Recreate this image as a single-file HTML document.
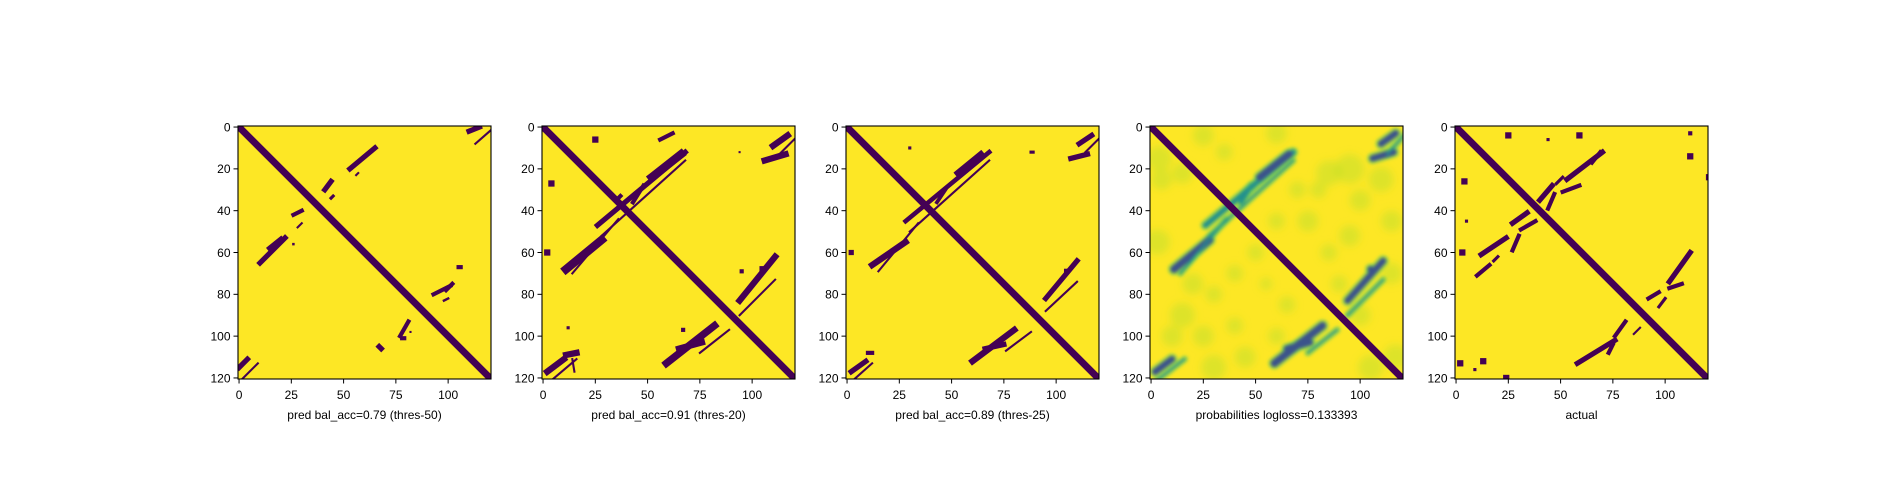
<!DOCTYPE html>
<html><head><meta charset="utf-8">
<style>
html,body{margin:0;padding:0;background:#fff;}
svg{display:block;font-family:"Liberation Sans","DejaVu Sans",sans-serif;}
</style></head>
<body>
<svg id="fig" width="1900" height="500" viewBox="0 0 1900 500" xmlns="http://www.w3.org/2000/svg">
<defs>
<filter id="blur1" x="-20%" y="-20%" width="140%" height="140%"><feGaussianBlur stdDeviation="1.6"/></filter>
<filter id="blur2" x="-50%" y="-50%" width="200%" height="200%"><feGaussianBlur stdDeviation="4"/></filter>
</defs>
</svg>
<script>
const N = 121;
const panelLefts = [238, 542, 846, 1150, 1455];
const panelTop = 126;
const panelSize = 253;
const yTicks = [0, 20, 40, 60, 80, 100, 120];
const xTicks = [0, 25, 50, 75, 100];
const titles = ["pred bal_acc=0.79 (thres-50)", "pred bal_acc=0.91 (thres-20)", "pred bal_acc=0.89 (thres-25)", "probabilities logloss=0.133393", "actual"];
const diagWidth = [3, 3, 3, 3, 3];

const panel1Segments = [
 [53,20,65,10,2.5],[56,23,57,22,1],[10,65,22,53,2.5],[15,58,20,54,3],[26,42,30,40,2],[26,56,26,56,1.2],[41,30,44,26,2.5],[44,34,45,33,1.5],[28,48,30,46,1],
 [110,2,115,0,2.5],[113,8,121,1,1],[0,115,4,111,2.5],[1,121,9,113,1],[93,80,101,76,2],[99,78,102,75,2],[98,83,100,82,1.2],
 [105,67,106,67,2],[77,100,81,93,2],[78,101,79,101,2],[67,105,68,106,2.5],[82,98,82,98,1]
];
const panel2Segments = [
 [68,12,26,47,2.5],[68,16,28,52,1],[52,24,66,13,4],[11,68,28,54,4],[14,70,36,44,1],[43,36,48,28,2],
 [110,9,117,4,3],[106,16,116,13,3],[113,13,122,4,1],[56,6,62,3,2],[25,6,25,6,3],[4,27,4,27,3],[2,60,2,60,3],
 [2,117,10,111,3],[11,109,16,108,3],[3,122,16,111,1],[14,111,15,117,1],
 [94,83,111,62,3],[105,68,105,68,3],[95,69,95,69,2],[94,90,111,73,1],
 [59,113,82,95,3.5],[65,106,76,103,3],[75,108,89,97,1],[67,97,67,97,2],[12,96,12,96,1.5],[35,35,37,33,2],[94,12,94,12,1]
];
const panel3Segments = [
 [68,12,28,45,2.2],[68,16,30,50,1],[53,22,64,13,3],[12,66,28,55,3],[15,69,34,46,1],[43,36,47,30,1.8],
 [111,8,117,4,2.5],[107,15,115,13,2.5],[114,12,121,5,1],[2,117,9,112,2.5],[3,121,12,113,1],[10,108,12,108,2],
 [95,82,110,64,2.5],[105,69,105,69,2.5],[95,88,110,74,1],[60,112,80,97,3],[66,106,75,104,2.5],[76,107,88,98,1],[2,60,2,60,2.5],[30,10,30,10,1.5],[88,12,89,12,1.5]
];
const panel4Segments = [
 [68,12,26,47,2.5],[68,16,28,52,1],[52,24,66,13,3.5],[11,68,28,54,3.5],[14,70,36,44,1],[43,36,48,28,2],
 [110,8,117,3,3],[106,15,116,12,3],[113,13,121,4,1],[2,117,10,111,3],[3,121,16,111,1],
 [94,83,111,64,3],[105,68,105,68,3],[94,90,111,73,1],[59,113,82,95,3.5],[65,106,76,103,3],[75,108,89,97,1]
];
const probNoise = [
 [25,4,5],[60,3,5],[4,15,6],[5,25,5],[15,22,5],[35,12,4],[85,22,6],[95,20,7],[110,25,6],[80,30,4],[100,35,5],[75,45,5],[60,45,4],
 [3,55,6],[20,75,5],[30,80,4],[15,90,6],[25,100,5],[10,100,5],[40,95,4],[50,60,4],[45,110,5],[30,115,6],[85,60,4],[95,52,5],
 [115,70,5],[117,110,6],[105,115,6],[100,90,5],[90,75,4],[65,85,4],[55,75,3],[70,30,4],[40,70,4],[115,45,5],[60,100,4]
];
const panel5Segments = [
 [70,12,53,25,2.5],[69,12,65,17,2],[59,28,51,31,2],[51,24,48,27,1.5],[46,28,40,35,2.5],[47,32,44,39,2],
 [34,41,27,46,2.5],[38,45,31,49,2],[24,53,12,61,2.5],[30,52,27,59,2],[20,62,18,64,1.5],[16,66,10,71,2],
 [112,60,102,74,2.5],[108,75,102,77,2],[97,79,92,82,2],[100,82,97,86,1.5],[81,93,76,100,2],[88,96,85,99,1],
 [76,102,58,113,2.5],[75,104,73,108,2],[112,14,112,14,3],[112,3,112,3,2],[59,4,59,4,3],[25,4,25,4,3],[44,6,44,6,1.5],
 [4,26,4,26,3],[3,60,3,60,3],[5,45,5,45,1.5],[2,113,2,113,3],[13,112,13,112,3],[24,120,24,120,3],[9,116,9,116,1.5],[121,24,121,24,3]
];
const allSegments = [panel1Segments, panel2Segments, panel3Segments, panel4Segments, panel5Segments];

const svg = document.getElementById('fig');
const NS = 'http://www.w3.org/2000/svg';
function mk(tag, attrs, parent){ const e=document.createElementNS(NS,tag); for(const k in attrs) e.setAttribute(k,attrs[k]); parent.appendChild(e); return e; }
const unit = panelSize / N;
function sx(p, v){ return panelLefts[p] + (v + 0.5) * unit; }
function sy(v){ return panelTop + (v + 0.5) * unit; }

for (let p = 0; p < 5; p++) {
  const L = panelLefts[p];
  const g = mk('g', {}, svg);
  
  
  const cp = mk('clipPath', {id: 'clip' + p}, svg);
  mk('rect', {x: L, y: panelTop, width: panelSize, height: panelSize}, cp);
  const bg = mk('rect', {x: L, y: panelTop, width: panelSize, height: panelSize, fill: '#fde725'}, g);
  
  
  const marks = mk('g', {'clip-path': 'url(#clip' + p + ')'}, g);
  
  
  const isProb = p === 3;
  if (isProb) {
    const ng = mk('g', {filter: 'url(#blur2)'}, marks);
    probNoise.forEach(n => {
      const c = mk('circle', {cx: sx(p, n[0]), cy: sy(n[1]), r: n[2] * unit, fill: '#b5de2b', opacity: 0.45}, ng);
      
      
    });
    const halo = mk('g', {filter: 'url(#blur1)'}, marks);
    allSegments[p].forEach(s => {
      const l = mk('line', {x1: sx(p, s[0]), y1: sy(s[1]), x2: sx(p, s[2]), y2: sy(s[3]), stroke: '#5ec962', 'stroke-width': (s[4] + 2.5) * unit, 'stroke-linecap': 'round', opacity: 0.55}, halo);
      
      
    });
    const core = mk('g', {filter: 'url(#blur1)'}, marks);
    allSegments[p].forEach(s => {
      const l = mk('line', {x1: sx(p, s[0]), y1: sy(s[1]), x2: sx(p, s[2]), y2: sy(s[3]), stroke: s[4] >= 3 ? '#3b528b' : '#21918c', 'stroke-width': s[4] * unit, 'stroke-linecap': 'round'}, core);
      
      
    });
  } else {
    allSegments[p].forEach(s => {
      const l = mk('line', {x1: sx(p, s[0]), y1: sy(s[1]), x2: sx(p, s[2]), y2: sy(s[3]), stroke: '#440154', 'stroke-width': s[4] * unit, 'stroke-linecap': 'square'}, marks);
      
      
    });
  }
  const d = mk('line', {x1: sx(p, 0), y1: sy(0), x2: sx(p, 120), y2: sy(120), stroke: '#440154', 'stroke-width': diagWidth[p] * unit * 1.1, 'stroke-linecap': 'square'}, marks);
  
  

  const frame = mk('rect', {x: L, y: panelTop, width: panelSize, height: panelSize, fill: 'none', stroke: '#000', 'stroke-width': 1.1}, g);
  
  

  yTicks.forEach(t => {
    const y = sy(t);
    const tk = mk('line', {x1: L - 4.5, y1: y, x2: L, y2: y, stroke: '#000', 'stroke-width': 1}, g);
    
    
    const tx = mk('text', {x: L - 7.5, y: y + 4.3, 'text-anchor': 'end', 'font-size': 12, fill: '#000'}, g);
    tx.textContent = t;
    
    
  });
  xTicks.forEach(t => {
    const x = sx(p, t);
    const tk = mk('line', {x1: x, y1: panelTop + panelSize, x2: x, y2: panelTop + panelSize + 4.5, stroke: '#000', 'stroke-width': 1}, g);
    
    
    const tx = mk('text', {x: x, y: panelTop + panelSize + 20, 'text-anchor': 'middle', 'font-size': 12, fill: '#000'}, g);
    tx.textContent = t;
    
    
  });
  const lab = mk('text', {x: L + panelSize / 2, y: 419, 'text-anchor': 'middle', 'font-size': 12, fill: '#000'}, g);
  lab.textContent = titles[p];
  
  
}
</script>
</body></html>
